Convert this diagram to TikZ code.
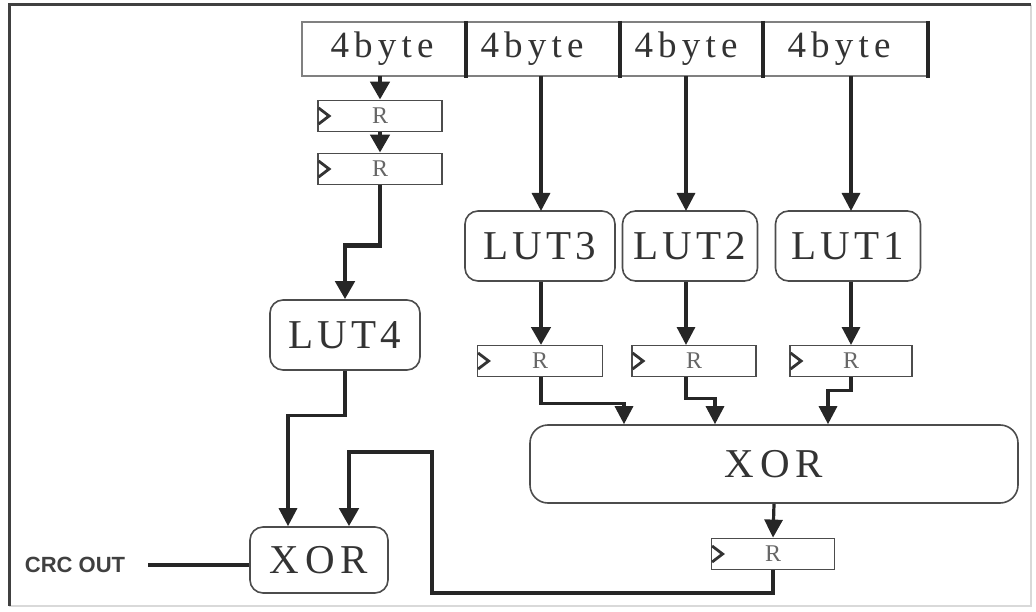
\documentclass[tikz,border=0pt]{standalone}
\usepackage{fontspec}
\setmainfont{Liberation Serif}
\newfontfamily\spacedA[LetterSpace=10]{Liberation Serif}
\newfontfamily\spacedC[LetterSpace=14]{Liberation Serif}
\newfontfamily\spacedB[LetterSpace=14]{Liberation Serif}
\newfontfamily\crcfont[LetterSpace=0]{Liberation Sans}
\usetikzlibrary{arrows.meta}
\definecolor{ink}{gray}{0.15}
\definecolor{txt}{gray}{0.2}
\tikzset{
  bytetext/.style={minimum height=54pt, inner sep=0pt, text=txt, font=\spacedC\fontsize{37}{39}\selectfont},
  reg/.style={draw=black!70, line width=1.8pt, minimum width=124pt, minimum height=31pt, inner sep=0pt, text=black!60, font=\fontsize{24}{26}\selectfont},
  lut/.style={draw=black!70, line width=1.6pt, rounded corners=13pt, minimum height=70pt, inner sep=0pt, text=txt, font=\spacedA\fontsize{41}{43}\selectfont},
  xorbox/.style={draw=black!70, line width=1.6pt, rounded corners=18pt, inner sep=0pt, text=txt, font=\spacedB\fontsize{41}{43}\selectfont},
  arr/.style={draw=ink, line width=3.2pt, -{Triangle[length=18pt,width=18pt]}},
  tarr/.style={draw=ink, line width=4.8pt, -{Triangle[length=18pt,width=19pt]}},
  wire/.style={draw=ink, line width=4.8pt},
}
\newcommand{\clk}[1]{\draw[black!80, line width=2.8pt, line join=miter] ([yshift=8pt,xshift=1.5pt]#1.west) -- ([xshift=12pt]#1.west) -- ([yshift=-8pt,xshift=1.5pt]#1.west);}
\begin{document}
\begin{tikzpicture}[x=1pt,y=-1pt]
\useasboundingbox (0,0) rectangle (1036,612);
% frame
\draw[black!15, line width=1.5pt] (1031,5) -- (1031,606) -- (9,606);
\draw[black!75, line width=3pt] (9,606) -- (9,5) -- (1031,5);
% top bar
\draw[black!50, line width=1.2pt] (302,22) rectangle (928,76);
\foreach \xx in {466,620,763,928} \draw[ink, line width=4pt] (\xx,21) -- (\xx,78);
\node[bytetext] (b1) at (382,49) {4byte};
\node[bytetext] (b2) at (532,49) {4byte};
\node[bytetext] (b3) at (686,49) {4byte};
\node[bytetext] (b4) at (839,49) {4byte};
% left column registers
\node[reg] (ra) at (380,116) {R};
\node[reg] (rb) at (380,169) {R};
\clk{ra} \clk{rb}
\node[lut, minimum width=150pt] (lut4) at (345,335) {LUT4};
\node[xorbox, minimum width=138pt, minimum height=66pt, rounded corners=13pt] (xs) at (319,560) {XOR};
% LUTs
\node[lut, minimum width=150pt] (lut3) at (540,246) {LUT3};
\node[lut, minimum width=135pt] (lut2) at (690,246) {LUT2};
\node[lut, minimum width=145pt] (lut1) at (848,246) {LUT1};
% registers after LUTs
\node[reg, minimum width=125pt] (r3) at (540,361) {R};
\node[reg] (r2) at (694,361) {R};
\node[reg, minimum width=122pt] (r1) at (851,361) {R};
\clk{r3} \clk{r2} \clk{r1}
% big xor
\node[xorbox, minimum width=488pt, minimum height=78pt] (xb) at (774,464) {XOR};
% final register
\node[reg, minimum width=123pt] (rf) at (773,554) {R};
\clk{rf}
% CRC OUT
\node[font=\crcfont\bfseries\fontsize{22}{24}\selectfont, text=black!75, inner sep=0pt] (crc) at (75,565) {CRC OUT};
\coordinate (crcend) at (148,565);
\coordinate (fbA) at (432,593);
\coordinate (fbB) at (432,452);
% connectors
\draw[tarr] (b1.south -| ra.north) -- (ra.north);
\draw[tarr] (ra.south) -- (rb.north);
\draw[tarr] (rb.south) -- ++(0,60) -| (lut4.north);
\draw[arr] (lut4.south) -- ++(0,45) -| ([xshift=-31pt]xs.north);
\draw[arr] (b2.south -| 541,0) -- (541,211);
\draw[arr] (b3.south -| 686,0) -- (686,211);
\draw[arr] (b4.south -| 851,0) -- (851,211);
\draw[tarr] (lut3.south -| 541,0) -- (541,345);
\draw[arr] (lut2.south -| 686,0) -- (686,345);
\draw[arr] (lut1.south -| 851,0) -- (851,345);
\draw[arr] (r3.south -| 541,0) -- ++(0,26) -| ([xshift=-150pt]xb.north);
\draw[arr] (r2.south -| 686,0) -- ++(0,21) -| ([xshift=-59pt]xb.north);
\draw[arr] (r1.south) -- ++(0,13) -| ([xshift=54pt]xb.north);
\draw[arr] (xb.south) -- (rf.north);
\draw[tarr] (rf.south) |- (fbA) -- (fbB) -| ([xshift=30pt]xs.north);
\draw[wire] (crcend) -- (xs.west |- crcend);
\end{tikzpicture}
\end{document}
